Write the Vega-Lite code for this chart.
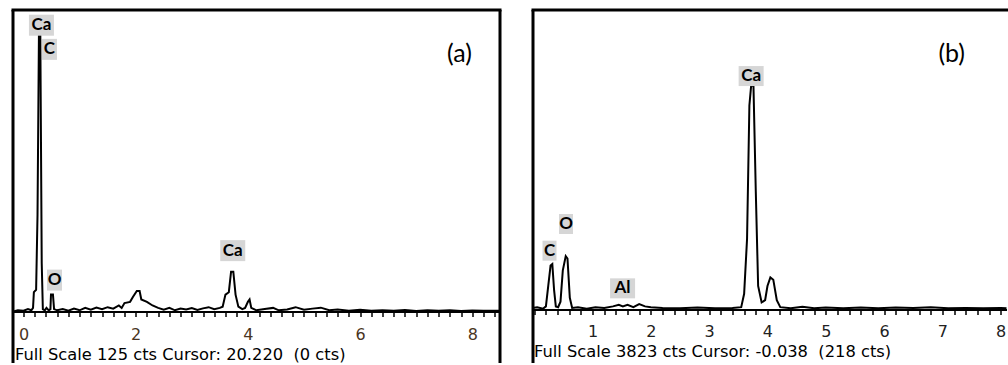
{
  "$schema": "https://vega.github.io/schema/vega-lite/v6.json",
  "padding": {"left": 8.5, "top": 9.5, "right": 0, "bottom": 0},
  "spacing": 25,
  "background": "white",
  "config": {"view": {"stroke": null}, "axis": {"grid": false}},
  "hconcat": [
    {
      "width": 487,
      "height": 353,
      "resolve": {"axis": {"x": "independent", "y": "independent"}},
      "layer": [
        {
          "data": {"values": [
            {"keV": -0.18, "cts": 0}, {"keV": -0.1, "cts": 0.5}, {"keV": 0.0, "cts": 0.3}, {"keV": 0.08, "cts": 1},
            {"keV": 0.14, "cts": 0.5}, {"keV": 0.17, "cts": 1.5}, {"keV": 0.185, "cts": 8}, {"keV": 0.225, "cts": 9},
            {"keV": 0.25, "cts": 40}, {"keV": 0.275, "cts": 114}, {"keV": 0.3, "cts": 114}, {"keV": 0.325, "cts": 20},
            {"keV": 0.345, "cts": 1}, {"keV": 0.38, "cts": 0.5}, {"keV": 0.41, "cts": 1.5}, {"keV": 0.45, "cts": 0.5},
            {"keV": 0.48, "cts": 1}, {"keV": 0.49, "cts": 7}, {"keV": 0.525, "cts": 7}, {"keV": 0.545, "cts": 1},
            {"keV": 0.6, "cts": 0.5}, {"keV": 0.7, "cts": 1}, {"keV": 0.8, "cts": 0.3}, {"keV": 0.9, "cts": 1.2},
            {"keV": 1.0, "cts": 0.5}, {"keV": 1.1, "cts": 1.5}, {"keV": 1.2, "cts": 0.8}, {"keV": 1.3, "cts": 1.6},
            {"keV": 1.4, "cts": 1}, {"keV": 1.5, "cts": 1.8}, {"keV": 1.6, "cts": 1.2}, {"keV": 1.7, "cts": 2.5},
            {"keV": 1.75, "cts": 1.5}, {"keV": 1.8, "cts": 3.5}, {"keV": 1.9, "cts": 4}, {"keV": 1.95, "cts": 6},
            {"keV": 2.02, "cts": 8.5}, {"keV": 2.07, "cts": 8.5}, {"keV": 2.1, "cts": 5}, {"keV": 2.2, "cts": 4},
            {"keV": 2.3, "cts": 2.5}, {"keV": 2.4, "cts": 1.5}, {"keV": 2.5, "cts": 0.8}, {"keV": 2.6, "cts": 1.5},
            {"keV": 2.7, "cts": 0.5}, {"keV": 2.8, "cts": 1.2}, {"keV": 2.9, "cts": 0.8}, {"keV": 3.0, "cts": 1.4},
            {"keV": 3.1, "cts": 0.6}, {"keV": 3.2, "cts": 1.3}, {"keV": 3.3, "cts": 1.8}, {"keV": 3.4, "cts": 1},
            {"keV": 3.5, "cts": 1.5}, {"keV": 3.55, "cts": 2}, {"keV": 3.6, "cts": 7}, {"keV": 3.66, "cts": 8},
            {"keV": 3.7, "cts": 16.5}, {"keV": 3.74, "cts": 16.5}, {"keV": 3.78, "cts": 7}, {"keV": 3.83, "cts": 2},
            {"keV": 3.9, "cts": 1}, {"keV": 3.95, "cts": 1.5}, {"keV": 4.0, "cts": 4}, {"keV": 4.03, "cts": 5},
            {"keV": 4.06, "cts": 1.5}, {"keV": 4.15, "cts": 0.5}, {"keV": 4.3, "cts": 1}, {"keV": 4.45, "cts": 1.5},
            {"keV": 4.55, "cts": 0.5}, {"keV": 4.7, "cts": 0.8}, {"keV": 4.85, "cts": 1.8}, {"keV": 5.0, "cts": 0.7},
            {"keV": 5.15, "cts": 1.2}, {"keV": 5.3, "cts": 1.6}, {"keV": 5.45, "cts": 0.5}, {"keV": 5.6, "cts": 0.8},
            {"keV": 5.8, "cts": 0.3}, {"keV": 6.0, "cts": 0.7}, {"keV": 6.2, "cts": 0.3}, {"keV": 6.4, "cts": 0.5},
            {"keV": 6.6, "cts": 0.3}, {"keV": 6.8, "cts": 0.6}, {"keV": 7.0, "cts": 0.2}, {"keV": 7.2, "cts": 0.5},
            {"keV": 7.4, "cts": 0.3}, {"keV": 7.6, "cts": 0.5}, {"keV": 7.8, "cts": 0.2}, {"keV": 8.0, "cts": 0.4},
            {"keV": 8.2, "cts": 0.3}, {"keV": 8.48, "cts": 0.3}
          ]},
          "mark": {"type": "line", "color": "black", "strokeWidth": 2, "interpolate": "linear"},
          "encoding": {
            "x": {"field": "keV", "type": "quantitative", "scale": {"domain": [-0.196, 8.485], "nice": false, "zero": false},
              "axis": {"orient": "bottom", "offset": -51,
                "values": [0,0.2,0.4,0.6,0.8,1,1.2,1.4,1.6,1.8,2,2.2,2.4,2.6,2.8,3,3.2,3.4,3.6,3.8,4,4.2,4.4,4.6,4.8,5,5.2,5.4,5.6,5.8,6,6.2,6.4,6.6,6.8,7,7.2,7.4,7.6,7.8,8,8.2,8.4],
                "labelExpr": "abs(datum.value/2 - round(datum.value/2)) < 0.001 ? format(datum.value, 'd') : ''",
                "labelFlush": false, "labelOverlap": false, "labelBound": false,
                "labelFont": "DejaVu Sans", "labelFontSize": 16, "labelColor": "#4a3522", "labelPadding": 18, "labelBaseline": "middle",
                "domain": true, "domainColor": "black", "domainWidth": 2,
                "ticks": true, "tickColor": "black", "tickSize": 5, "tickWidth": 1.5,
                "title": "Full Scale 125 cts Cursor: 20.220\u00a0 (0 cts)",
                "titleFont": "DejaVu Sans", "titleFontSize": 16.3, "titleFontWeight": "normal", "titleColor": "black",
                "titleX": 2, "titleY": 43, "titleAlign": "left", "titleAnchor": "start", "titleBaseline": "middle", "titleAngle": 0}},
            "y": {"field": "cts", "type": "quantitative", "scale": {"domain": [-21.1, 125], "nice": false, "zero": false},
              "axis": {"orient": "left", "domain": true, "domainColor": "black", "domainWidth": 3, "domainCap": "butt",
                "ticks": false, "labels": false, "title": null}}
          }
        },
        {
          "data": {"values": [
            {"keV": 0.32, "cts": 118.5, "label": "Ca"},
            {"keV": 0.463, "cts": 108.5, "label": "C"},
            {"keV": 0.553, "cts": 13, "label": "O"},
            {"keV": 3.73, "cts": 25.2, "label": "Ca"}
          ]},
          "layer": [
            {
              "transform": [{"filter": "length(datum.label) > 1"}],
              "mark": {"type": "rect", "color": "#d6d6d6", "width": 25, "height": 21},
              "encoding": {
                "x": {"field": "keV", "type": "quantitative", "axis": null},
                "y": {"field": "cts", "type": "quantitative", "axis": null}
              }
            },
            {
              "transform": [{"filter": "length(datum.label) == 1"}],
              "mark": {"type": "rect", "color": "#d6d6d6", "width": 15, "height": 21},
              "encoding": {
                "x": {"field": "keV", "type": "quantitative", "axis": null},
                "y": {"field": "cts", "type": "quantitative", "axis": null}
              }
            },
            {
              "mark": {"type": "text", "font": "Lato", "fontWeight": "bold", "fontSize": 17, "color": "black", "align": "center", "baseline": "middle"},
              "encoding": {
                "x": {"field": "keV", "type": "quantitative", "axis": null},
                "y": {"field": "cts", "type": "quantitative", "axis": null},
                "text": {"field": "label"}
              }
            }
          ]
        },
        {
          "data": {"values": [{"keV": 7.77, "cts": 106.5, "label": "(a)"}]},
          "mark": {"type": "text", "font": "Lato", "fontSize": 25, "color": "black", "align": "center", "baseline": "middle"},
          "encoding": {
            "x": {"field": "keV", "type": "quantitative",
              "axis": {"orient": "top", "domain": true, "domainColor": "black", "domainWidth": 3, "domainCap": "square",
                "ticks": false, "labels": false, "title": null}},
            "y": {"field": "cts", "type": "quantitative",
              "axis": {"orient": "right", "domain": true, "domainColor": "black", "domainWidth": 3, "domainCap": "butt",
                "ticks": false, "labels": false, "title": null}},
            "text": {"field": "label"}
          }
        }
      ]
    },
    {
      "width": 474,
      "height": 353,
      "resolve": {"axis": {"x": "independent", "y": "independent"}},
      "layer": [
        {
          "data": {"values": [
            {"keV": -0.03, "cts": 20}, {"keV": 0.05, "cts": 30}, {"keV": 0.15, "cts": 10}, {"keV": 0.2, "cts": 40},
            {"keV": 0.24, "cts": 300}, {"keV": 0.28, "cts": 560}, {"keV": 0.31, "cts": 580}, {"keV": 0.34, "cts": 250},
            {"keV": 0.37, "cts": 40}, {"keV": 0.41, "cts": 30}, {"keV": 0.45, "cts": 100}, {"keV": 0.49, "cts": 500},
            {"keV": 0.54, "cts": 680}, {"keV": 0.57, "cts": 650}, {"keV": 0.61, "cts": 150}, {"keV": 0.65, "cts": 20},
            {"keV": 0.75, "cts": 30}, {"keV": 0.9, "cts": 10}, {"keV": 1.05, "cts": 30}, {"keV": 1.2, "cts": 20},
            {"keV": 1.35, "cts": 40}, {"keV": 1.45, "cts": 60}, {"keV": 1.52, "cts": 40}, {"keV": 1.6, "cts": 60},
            {"keV": 1.7, "cts": 30}, {"keV": 1.8, "cts": 70}, {"keV": 1.9, "cts": 40}, {"keV": 2.0, "cts": 30},
            {"keV": 2.2, "cts": 20}, {"keV": 2.5, "cts": 15}, {"keV": 2.8, "cts": 25}, {"keV": 3.1, "cts": 15},
            {"keV": 3.4, "cts": 20}, {"keV": 3.55, "cts": 30}, {"keV": 3.6, "cts": 200}, {"keV": 3.65, "cts": 900},
            {"keV": 3.69, "cts": 2600}, {"keV": 3.72, "cts": 2850}, {"keV": 3.76, "cts": 2850}, {"keV": 3.8, "cts": 1500},
            {"keV": 3.84, "cts": 300}, {"keV": 3.9, "cts": 90}, {"keV": 3.96, "cts": 120}, {"keV": 4.0, "cts": 300},
            {"keV": 4.05, "cts": 410}, {"keV": 4.1, "cts": 380}, {"keV": 4.16, "cts": 120}, {"keV": 4.22, "cts": 30},
            {"keV": 4.4, "cts": 15}, {"keV": 4.6, "cts": 35}, {"keV": 4.8, "cts": 15}, {"keV": 5.0, "cts": 25},
            {"keV": 5.3, "cts": 15}, {"keV": 5.6, "cts": 25}, {"keV": 5.9, "cts": 15}, {"keV": 6.2, "cts": 25},
            {"keV": 6.5, "cts": 20}, {"keV": 6.8, "cts": 30}, {"keV": 7.1, "cts": 15}, {"keV": 7.4, "cts": 20},
            {"keV": 7.7, "cts": 15}, {"keV": 8.0, "cts": 20}, {"keV": 8.1, "cts": 15}
          ]},
          "mark": {"type": "line", "color": "black", "strokeWidth": 2, "interpolate": "linear"},
          "encoding": {
            "x": {"field": "keV", "type": "quantitative", "scale": {"domain": [-0.03, 8.1], "nice": false, "zero": false},
              "axis": {"orient": "bottom", "offset": -53,
                "values": [0,0.2,0.4,0.6,0.8,1,1.2,1.4,1.6,1.8,2,2.2,2.4,2.6,2.8,3,3.2,3.4,3.6,3.8,4,4.2,4.4,4.6,4.8,5,5.2,5.4,5.6,5.8,6,6.2,6.4,6.6,6.8,7,7.2,7.4,7.6,7.8,8],
                "labelExpr": "datum.value > 0.5 && abs(datum.value - round(datum.value)) < 0.001 ? format(datum.value, 'd') : ''",
                "labelFlush": false, "labelOverlap": false, "labelBound": false,
                "labelFont": "DejaVu Sans", "labelFontSize": 16, "labelColor": "#222222", "labelPadding": 17, "labelBaseline": "middle",
                "domain": true, "domainColor": "black", "domainWidth": 2,
                "ticks": true, "tickColor": "black", "tickSize": 5, "tickWidth": 1.5,
                "title": "Full Scale 3823 cts Cursor: -0.038\u00a0 (218 cts)",
                "titleFont": "DejaVu Sans", "titleFontSize": 16.3, "titleFontWeight": "normal", "titleColor": "black",
                "titleX": 1, "titleY": 42, "titleAlign": "left", "titleAnchor": "start", "titleBaseline": "middle", "titleAngle": 0}},
            "y": {"field": "cts", "type": "quantitative", "scale": {"domain": [-675, 3823], "nice": false, "zero": false},
              "axis": {"orient": "left", "domain": true, "domainColor": "black", "domainWidth": 3, "domainCap": "butt",
                "ticks": false, "labels": false, "title": null}}
          }
        },
        {
          "data": {"values": [
            {"keV": 0.262, "cts": 750, "label": "C"},
            {"keV": 0.545, "cts": 1090, "label": "O"},
            {"keV": 1.515, "cts": 270, "label": "Al"},
            {"keV": 3.72, "cts": 2975, "label": "Ca"}
          ]},
          "layer": [
            {
              "transform": [{"filter": "length(datum.label) > 1"}],
              "mark": {"type": "rect", "color": "#d6d6d6", "width": 25, "height": 20},
              "encoding": {
                "x": {"field": "keV", "type": "quantitative", "axis": null},
                "y": {"field": "cts", "type": "quantitative", "axis": null}
              }
            },
            {
              "transform": [{"filter": "length(datum.label) == 1"}],
              "mark": {"type": "rect", "color": "#d6d6d6", "width": 14, "height": 20},
              "encoding": {
                "x": {"field": "keV", "type": "quantitative", "axis": null},
                "y": {"field": "cts", "type": "quantitative", "axis": null}
              }
            },
            {
              "mark": {"type": "text", "font": "Lato", "fontWeight": "bold", "fontSize": 17, "color": "black", "align": "center", "baseline": "middle"},
              "encoding": {
                "x": {"field": "keV", "type": "quantitative", "axis": null},
                "y": {"field": "cts", "type": "quantitative", "axis": null},
                "text": {"field": "label"}
              }
            }
          ]
        },
        {
          "data": {"values": [{"keV": 7.16, "cts": 3260, "label": "(b)"}]},
          "mark": {"type": "text", "font": "Lato", "fontSize": 25, "color": "black", "align": "center", "baseline": "middle"},
          "encoding": {
            "x": {"field": "keV", "type": "quantitative",
              "axis": {"orient": "top", "domain": true, "domainColor": "black", "domainWidth": 3, "domainCap": "square",
                "ticks": false, "labels": false, "title": null}},
            "y": {"field": "cts", "type": "quantitative", "axis": null},
            "text": {"field": "label"}
          }
        }
      ]
    }
  ]
}
